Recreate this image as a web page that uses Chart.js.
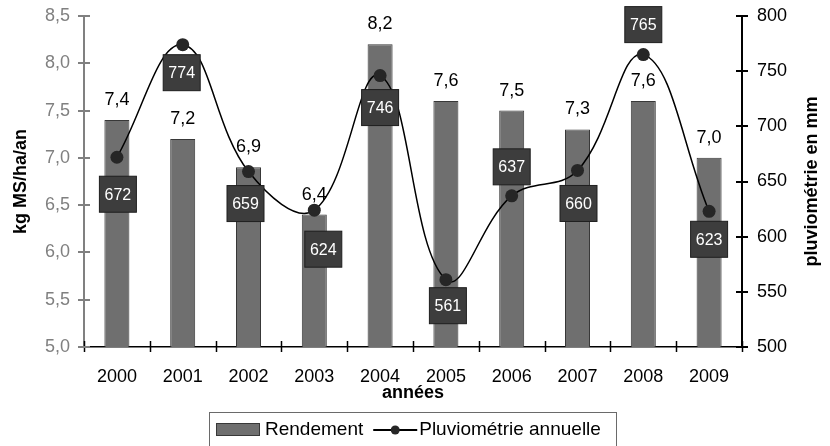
<!DOCTYPE html>
<html>
<head>
<meta charset="utf-8">
<script src="https://cdn.jsdelivr.net/npm/chart.js@4.4.1/dist/chart.umd.min.js"></script>
<style>
  html, body { margin: 0; padding: 0; background: #fff; }
  #wrap { width: 830px; height: 446px; }
</style>
</head>
<body>
<div id="wrap"><canvas id="chart" width="830" height="446"></canvas></div>
<script>
// data
const years = ['2000', '2001', '2002', '2003', '2004', '2005', '2006', '2007', '2008', '2009'];
const rendement = [7.4, 7.2, 6.9, 6.4, 8.2, 7.6, 7.5, 7.3, 7.6, 7.0];
const pluviometrie = [672, 774, 659, 624, 746, 561, 637, 660, 765, 623];

// where each rainfall box sits relative to its point (px)
const boxOffsets = [[1, 37], [-1, 28], [-3, 32], [9, 39], [0, 32], [2, 26], [0, -29], [1, 33], [0, -30], [0, 28]];

const FONT = "'Liberation Sans', Arial, sans-serif";
const BAR_FILL = '#6f6f6f';
const BAR_EDGE = '#383838';
const BOX_FILL = '#3d3d3d';

Chart.defaults.font.family = FONT;

function fmt(v) {
    return v.toFixed(1).replace('.', ',');
}

const decor = {
    id: 'decor',
    afterDatasetsDraw(chart) {
        const ctx = chart.ctx;
        const area = chart.chartArea;
        ctx.save();

        // tick marks crossing the axes
        ctx.lineWidth = 1.5;
        ctx.strokeStyle = '#000';
        let step = (area.right - area.left) / years.length;
        for (let i = 0; i <= years.length; i++) {
            let x = Math.round(area.left + i * step) + 0.5;
            ctx.beginPath();
            ctx.moveTo(x, area.bottom - 6);
            ctx.lineTo(x, area.bottom + 5);
            ctx.stroke();
        }
        ctx.lineWidth = 2;
        ctx.strokeStyle = '#808080';
        chart.scales.y1.ticks.forEach((t) => {
            let y = Math.round(chart.scales.y1.getPixelForValue(t.value));
            ctx.beginPath();
            ctx.moveTo(area.left - 6, y);
            ctx.lineTo(area.left + 6, y);
            ctx.stroke();
        });
        ctx.strokeStyle = '#000';
        chart.scales.y2.ticks.forEach((t) => {
            let y = Math.round(chart.scales.y2.getPixelForValue(t.value));
            ctx.beginPath();
            ctx.moveTo(area.right - 6, y);
            ctx.lineTo(area.right + 6, y);
            ctx.stroke();
        });

        // values above the bars
        ctx.fillStyle = '#000';
        ctx.font = `18px ${FONT}`;
        ctx.textAlign = 'center';
        ctx.textBaseline = 'middle';
        chart.getDatasetMeta(0).data.forEach((bar, i) => {
            ctx.fillText(fmt(rendement[i]), bar.x, bar.y - 20);
        });

        // rainfall values in dark boxes
        ctx.font = `16px ${FONT}`;
        chart.getDatasetMeta(1).data.forEach((pt, i) => {
            let cx = pt.x + boxOffsets[i][0];
            let cy = pt.y + boxOffsets[i][1];
            ctx.fillStyle = BOX_FILL;
            ctx.fillRect(cx - 18.5, cy - 18, 37, 36);
            ctx.strokeStyle = '#1e1e1e';
            ctx.lineWidth = 1;
            ctx.strokeRect(cx - 18.5, cy - 18, 37, 36);
            ctx.fillStyle = '#fff';
            ctx.fillText(String(pluviometrie[i]), cx, cy + 1);
        });
        ctx.restore();
    },
    afterDraw(chart) {
        const ctx = chart.ctx;
        ctx.save();

        // right axis title, reading bottom to top
        ctx.fillStyle = '#000';
        ctx.font = `bold 18px ${FONT}`;
        ctx.textAlign = 'center';
        ctx.textBaseline = 'alphabetic';
        ctx.translate(817, (chart.chartArea.top + chart.chartArea.bottom) / 2);
        ctx.rotate(-Math.PI / 2);
        ctx.fillText('pluviométrie en mm', 0, 0);
        ctx.restore();

        // legend
        ctx.save();
        let lx = 209, ly = 412;
        ctx.strokeStyle = '#6a6a6a';
        ctx.lineWidth = 1;
        ctx.strokeRect(lx + 0.5, ly + 0.5, 407, 44);
        ctx.fillStyle = BAR_FILL;
        ctx.fillRect(lx + 7, ly + 11, 44, 13);
        ctx.strokeStyle = BAR_EDGE;
        ctx.strokeRect(lx + 7.5, ly + 11.5, 43, 12);
        ctx.fillStyle = '#000';
        ctx.font = `19px ${FONT}`;
        ctx.textAlign = 'left';
        ctx.textBaseline = 'middle';
        ctx.fillText('Rendement', lx + 56, ly + 18);
        let sx = lx + 56 + ctx.measureText('Rendement').width + 10;
        ctx.strokeStyle = '#000';
        ctx.lineWidth = 2;
        ctx.beginPath();
        ctx.moveTo(sx, ly + 18);
        ctx.lineTo(sx + 44, ly + 18);
        ctx.stroke();
        ctx.fillStyle = '#262626';
        ctx.beginPath();
        ctx.arc(sx + 22, ly + 18, 4.5, 0, Math.PI * 2);
        ctx.fill();
        ctx.fillStyle = '#000';
        ctx.fillText('Pluviométrie annuelle', sx + 46, ly + 18);
        ctx.restore();
    }
};

new Chart(document.getElementById('chart'), {
    data: {
        labels: years,
        datasets: [
            {
                type: 'bar',
                label: 'Rendement',
                data: rendement,
                yAxisID: 'y1',
                backgroundColor: BAR_FILL,
                borderColor: BAR_EDGE,
                borderWidth: 1,
                barPercentage: 0.38,
                categoryPercentage: 1,
                order: 2
            },
            {
                type: 'line',
                label: 'Pluviométrie annuelle',
                data: pluviometrie,
                yAxisID: 'y2',
                borderColor: '#000',
                borderWidth: 1.5,
                tension: 0.4,
                pointRadius: 6.5,
                pointBackgroundColor: '#262626',
                pointBorderColor: '#262626',
                pointBorderWidth: 0,
                order: 1
            }
        ]
    },
    options: {
        responsive: false,
        animation: false,
        layout: { padding: { top: 16, bottom: 39, left: 0, right: 0 } },
        plugins: {
            legend: { display: false },
            tooltip: { enabled: false }
        },
        scales: {
            x: {
                offset: true,
                grid: { drawOnChartArea: false, drawTicks: false, offset: true },
                border: { color: '#000', width: 1.5 },
                ticks: { color: '#000', font: { size: 18 }, padding: 19, maxRotation: 0, autoSkip: false },
                title: { display: true, text: 'années', color: '#000', font: { size: 18, weight: 'bold' }, padding: { top: 0, bottom: 3 } },
                afterFit: (s) => { s.height = 60; s.paddingLeft = 0; s.paddingRight = 0; }
            },
            y1: {
                position: 'left',
                min: 5,
                max: 8.5,
                grid: { drawOnChartArea: false, drawTicks: false },
                border: { color: '#808080', width: 2 },
                ticks: { stepSize: 0.5, color: '#808080', font: { size: 18 }, padding: 14, callback: (v) => fmt(v) },
                title: { display: true, text: 'kg MS/ha/an', color: '#000', font: { size: 18, weight: 'bold' }, padding: { top: 10, bottom: 0 } },
                afterFit: (s) => { s.width = 84; s.paddingTop = 0; s.paddingBottom = 0; }
            },
            y2: {
                position: 'right',
                min: 500,
                max: 800,
                grid: { drawOnChartArea: false, drawTicks: false },
                border: { color: '#000', width: 2 },
                ticks: { stepSize: 50, color: '#000', font: { size: 18 }, padding: 15 },
                afterFit: (s) => { s.width = 88; s.paddingTop = 0; s.paddingBottom = 0; }
            }
        }
    },
    plugins: [decor]
});
</script>
</body>
</html>
